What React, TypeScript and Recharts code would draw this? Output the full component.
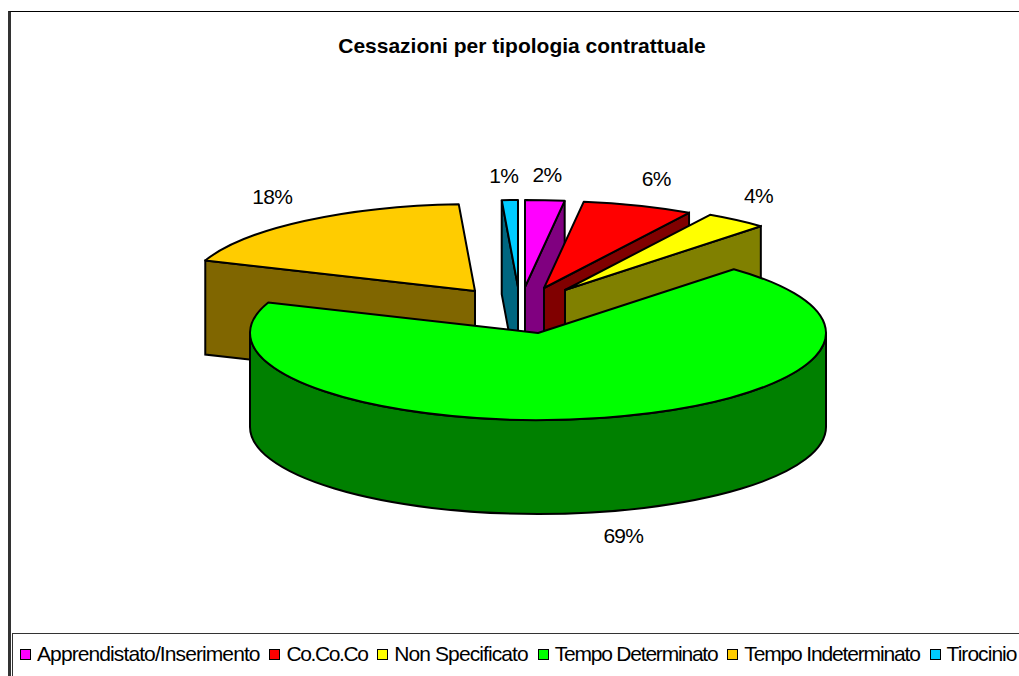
import { PieChart, Pie, Legend } from "recharts";

const categories = [
  "Apprendistato/Inserimento",
  "Co.Co.Co",
  "Non Specificato",
  "Tempo Determinato",
  "Tempo Indeterminato",
  "Tirocinio",
];
const shares = [2.2, 6.2, 3.5, 68.8, 18.4, 0.9];
const topColors = ["#FF00FF", "#FF0000", "#FFFF00", "#00FF00", "#FFCC00", "#00CCFF"];
const sideColors = ["#800080", "#800000", "#808000", "#008000", "#806600", "#006680"];

// how far each slice is pulled out of the pie, in px
const pullX = [-13, 6, 27, 0, -63, -20];
const pullY = [-46, -45, -43, 0, -42, -46];
// label position relative to the middle of the slice's rim
const labelX = [2, 18, 22, 19, -32, -6];
const labelY = [-26, -27, -25, 118, -24, -25];
// legend text is squeezed a bit differently per entry in the original
const legendSpacing = [-0.9, -1.4, -0.9, -1.2, -1.15, -0.95];

const FRONT_SLICE = "Tempo Determinato";
const SQUASH = 87 / 288;
const DEPTH = 94;
const EDGE = 2;

const rows = categories.map((name, i) => ({
  name,
  value: shares[i],
  fill: topColors[i],
  side: sideColors[i],
  index: i,
}));

const rad = (deg: number) => (deg * Math.PI) / 180;

function Slice3D(props: any, front: boolean) {
  const row = rows.find((r) => r.name === props.name);
  if (!row || (row.name === FRONT_SLICE) !== front) return <g />;
  const ax = props.cx + pullX[row.index];
  const ay = props.cy + pullY[row.index];
  const rx = props.outerRadius;
  const ry = rx * SQUASH;
  const at = (deg: number) => [ax + rx * Math.cos(rad(deg)), ay - ry * Math.sin(rad(deg))];
  const [sx, sy] = at(props.startAngle);
  const [ex, ey] = at(props.endAngle);
  const large = props.startAngle - props.endAngle > 180 ? 1 : 0;
  const wall = (x: number, y: number) =>
    `M${ax},${ay}L${x},${y}L${x},${y + DEPTH}L${ax},${ay + DEPTH}Z`;

  // rim wall only exists on the part of the arc facing the viewer
  const rimFrom = Math.min(props.startAngle, 0);
  const rimTo = Math.max(props.endAngle, -180);
  let rim = null;
  if (rimFrom > rimTo) {
    const [fx, fy] = at(rimFrom);
    const [tx, ty] = at(rimTo);
    rim = (
      <path
        d={`M${fx},${fy}A${rx},${ry} 0 0 1 ${tx},${ty}L${tx},${ty + DEPTH}A${rx},${ry} 0 0 0 ${fx},${fy + DEPTH}Z`}
        fill={row.side}
        stroke="#000"
        strokeWidth={EDGE}
      />
    );
  }

  return (
    <g>
      {rim}
      {sx < ax && <path d={wall(sx, sy)} fill={row.side} stroke="#000" strokeWidth={EDGE} />}
      {ex > ax && <path d={wall(ex, ey)} fill={row.side} stroke="#000" strokeWidth={EDGE} />}
      <path
        d={`M${ax},${ay}L${sx},${sy}A${rx},${ry} 0 ${large} 1 ${ex},${ey}Z`}
        fill={row.fill}
        stroke="#000"
        strokeWidth={EDGE}
        strokeLinejoin="round"
      />
    </g>
  );
}

function SliceLabel(props: any) {
  const i = categories.indexOf(props.name);
  const rx = props.outerRadius;
  const mid = rad(props.midAngle);
  const x = props.cx + pullX[i] + rx * Math.cos(mid) + labelX[i];
  const y = props.cy + pullY[i] - rx * SQUASH * Math.sin(mid) + labelY[i];
  return (
    <text
      x={x}
      y={y}
      textAnchor="middle"
      dominantBaseline="central"
      fontFamily="Liberation Sans"
      fontSize={21}
      letterSpacing={-0.7}
      fill="#000"
    >
      {Math.round(shares[i])}%
    </text>
  );
}

function LegendRow() {
  return (
    <div
      style={{
        display: "flex",
        alignItems: "center",
        height: 40,
        paddingLeft: 7,
        whiteSpace: "nowrap",
        fontFamily: "Liberation Sans",
        fontSize: 21,
        color: "#000",
      }}
    >
      {rows.map((r, i) => (
        <span key={r.name} style={{ display: "flex", alignItems: "center", marginRight: 9.8, letterSpacing: legendSpacing[i] }}>
          <span
            style={{
              width: 9,
              height: 9,
              background: r.fill,
              border: "1.5px solid #000",
              marginRight: 6,
            }}
          />
          {r.name}
        </span>
      ))}
    </div>
  );
}

export default function App() {
  return (
    <div style={{ position: "absolute", left: 0, top: 0, width: 1019, height: 676, overflow: "hidden", background: "#fff" }}>
      <div style={{ position: "absolute", left: 8, top: 11, width: 1011, height: 665, boxSizing: "border-box", borderLeft: "3px solid #333", borderTop: "1.5px solid #000" }} />
      <div
        style={{
          position: "absolute",
          left: 0,
          width: 1044,
          top: 34,
          textAlign: "center",
          fontFamily: "Liberation Sans",
          fontWeight: "bold",
          fontSize: 21,
          color: "#000",
        }}
      >
        Cessazioni per tipologia contrattuale
      </div>
      <PieChart width={1019} height={676} margin={{ top: 0, right: 0, bottom: 0, left: 0 }}>
        <Pie
          data={rows}
          dataKey="value"
          nameKey="name"
          cx={538}
          cy={333}
          outerRadius={288}
          startAngle={90}
          endAngle={-270}
          isAnimationActive={false}
          rootTabIndex={-1}
          shape={(p: any) => Slice3D(p, false)}
        />
        <Pie
          data={rows}
          dataKey="value"
          nameKey="name"
          cx={538}
          cy={333}
          outerRadius={288}
          startAngle={90}
          endAngle={-270}
          isAnimationActive={false}
          rootTabIndex={-1}
          legendType="none"
          label={SliceLabel}
          labelLine={false}
          shape={(p: any) => Slice3D(p, true)}
        />
        <Legend
          content={() => <LegendRow />}
          wrapperStyle={{
            position: "absolute",
            left: 12,
            top: 633,
            bottom: "auto",
            width: 1007,
            height: 43,
            boxSizing: "border-box",
            borderLeft: "1.5px solid #333",
            borderTop: "1.5px solid #333",
          }}
        />
      </PieChart>
    </div>
  );
}
